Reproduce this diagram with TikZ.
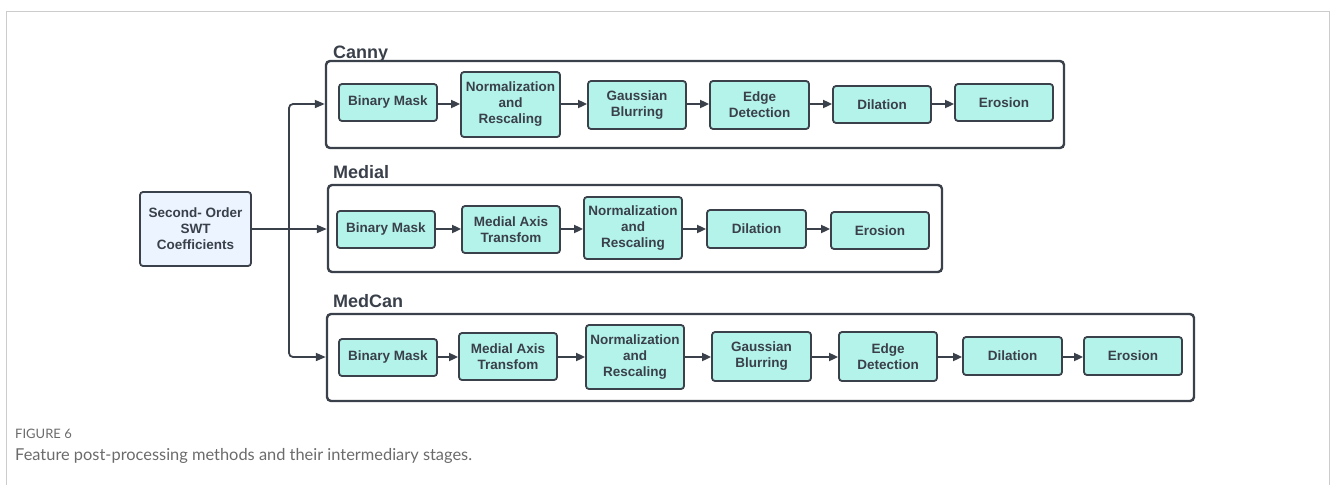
\documentclass[tikz,border=0pt]{standalone}
\usepackage{fontspec}
\setmainfont{Liberation Sans}
\newfontfamily\capfont{Lato}
\usetikzlibrary{arrows.meta}
\definecolor{ink}{HTML}{3B414B}
\definecolor{txt}{HTML}{3A404A}
\definecolor{teal}{HTML}{B4F3EA}
\definecolor{swtfill}{HTML}{EBF4FF}
\definecolor{framegray}{HTML}{CCCCCC}
\definecolor{capgray}{HTML}{6B6B6B}
\tikzset{
  stagebox/.style={draw=ink, line width=1.8pt, fill=teal, rounded corners=3pt,
    inner sep=0pt, align=center, text=txt,
    font=\fontsize{13.5pt}{16pt}\selectfont\bfseries},
  groupbox/.style={draw=ink, line width=2.4pt, rounded corners=4pt, inner sep=0pt,
    minimum height=87pt},
  grouplabel/.style={anchor=base west, inner sep=0pt, text=txt,
    font=\fontsize{18pt}{20pt}\selectfont\bfseries},
  arr/.style={draw=ink, line width=1.8pt, -{Triangle[length=9pt,width=8pt]}},
  branch/.style={draw=ink, line width=1.8pt, rounded corners=4pt, -{Triangle[length=10pt,width=8pt]}},
}
\begin{document}
\begin{tikzpicture}[x=1pt,y=-1pt]
\useasboundingbox (0,0) rectangle (1330,485);
% outer frame
\draw[framegray, line width=1pt] (6,485) -- (6,11) -- (1329,11) -- (1329,485);

% group containers
\node[groupbox, minimum width=738pt] (canny) at (695,104.5) {};
\node[groupbox, minimum width=614pt] (medial) at (635,228.5) {};
\node[groupbox, minimum width=867pt] (medcan) at (760.5,357.5) {};

\node[grouplabel] (lcanny) at (333,58) {Canny};
\node[grouplabel] (lmedial) at (333,178) {Medial};
\node[grouplabel] (lmedcan) at (333,307) {MedCan};

% source
\node[stagebox, fill=swtfill, minimum width=111pt, minimum height=74pt] (swt) at (195.5,229)
  {Second- Order\\SWT\\Coefficients};

% Canny row
\coordinate (rowc) at (0,104);
\node[stagebox, minimum width=98pt, minimum height=37pt] (c1) at (388,102.5) {Binary Mask};
\node[stagebox, minimum width=99pt, minimum height=65pt] (c2) at (510.5,104.5) {Normalization\\and\\Rescaling};
\node[stagebox, minimum width=98pt, minimum height=48pt] (c3) at (637,105) {Gaussian\\Blurring};
\node[stagebox, minimum width=99pt, minimum height=48pt] (c4) at (759.5,105) {Edge\\Detection};
\node[stagebox, minimum width=98pt, minimum height=37pt] (c5) at (882,104.5) {Dilation};
\node[stagebox, minimum width=98pt, minimum height=37pt] (c6) at (1004,102.5) {Erosion};
\foreach \a/\b in {c1/c2,c2/c3,c3/c4,c4/c5,c5/c6}
  \draw[arr] (\a.east |- rowc) -- (\b.west |- rowc);

% Medial row
\coordinate (rowm) at (0,229);
\node[stagebox, minimum width=98pt, minimum height=37pt] (m1) at (386,229.5) {Binary Mask};
\node[stagebox, minimum width=98pt, minimum height=47pt] (m2) at (511,229.5) {Medial Axis\\Transfom};
\node[stagebox, minimum width=98pt, minimum height=62pt] (m3) at (633,228) {Normalization\\and\\Rescaling};
\node[stagebox, minimum width=99pt, minimum height=38pt] (m4) at (756.5,229) {Dilation};
\node[stagebox, minimum width=98pt, minimum height=37pt] (m5) at (880,230.5) {Erosion};
\foreach \a/\b in {m1/m2,m2/m3,m3/m4,m4/m5}
  \draw[arr] (\a.east |- rowm) -- (\b.west |- rowm);

% MedCan row
\coordinate (rowk) at (0,357);
\node[stagebox, minimum width=98pt, minimum height=37pt] (k1) at (388,357.5) {Binary Mask};
\node[stagebox, minimum width=98pt, minimum height=47pt] (k2) at (508,356.5) {Medial Axis\\Transfom};
\node[stagebox, minimum width=98pt, minimum height=64pt] (k3) at (635,357) {Normalization\\and\\Rescaling};
\node[stagebox, minimum width=99pt, minimum height=49pt] (k4) at (761.5,356.5) {Gaussian\\Blurring};
\node[stagebox, minimum width=98pt, minimum height=49pt] (k5) at (888,356.5) {Edge\\Detection};
\node[stagebox, minimum width=99pt, minimum height=38pt] (k6) at (1012.5,356) {Dilation};
\node[stagebox, minimum width=98pt, minimum height=38pt] (k7) at (1133,356) {Erosion};
\foreach \a/\b in {k1/k2,k2/k3,k3/k4,k4/k5,k5/k6,k6/k7}
  \draw[arr] (\a.east |- rowk) -- (\b.west |- rowk);

% branching connectors
\coordinate (j) at (289,229);
\draw[branch] (swt.east) -- (swt.east -| medial.west);
\draw[branch] (j) |- (canny.west |- rowc);
\draw[branch] (j) |- (medcan.west |- rowk);

% caption
\node[anchor=base west, inner sep=0pt, text=capgray, font=\capfont\fontsize{13pt}{15pt}\selectfont] (fig) at (15,438) {FIGURE 6};
\node[anchor=base west, inner sep=0pt, text=capgray, font=\capfont\fontsize{16.4pt}{18pt}\selectfont] (cap) at (15,460) {Feature post-processing methods and their intermediary stages.};
\end{tikzpicture}
\end{document}
